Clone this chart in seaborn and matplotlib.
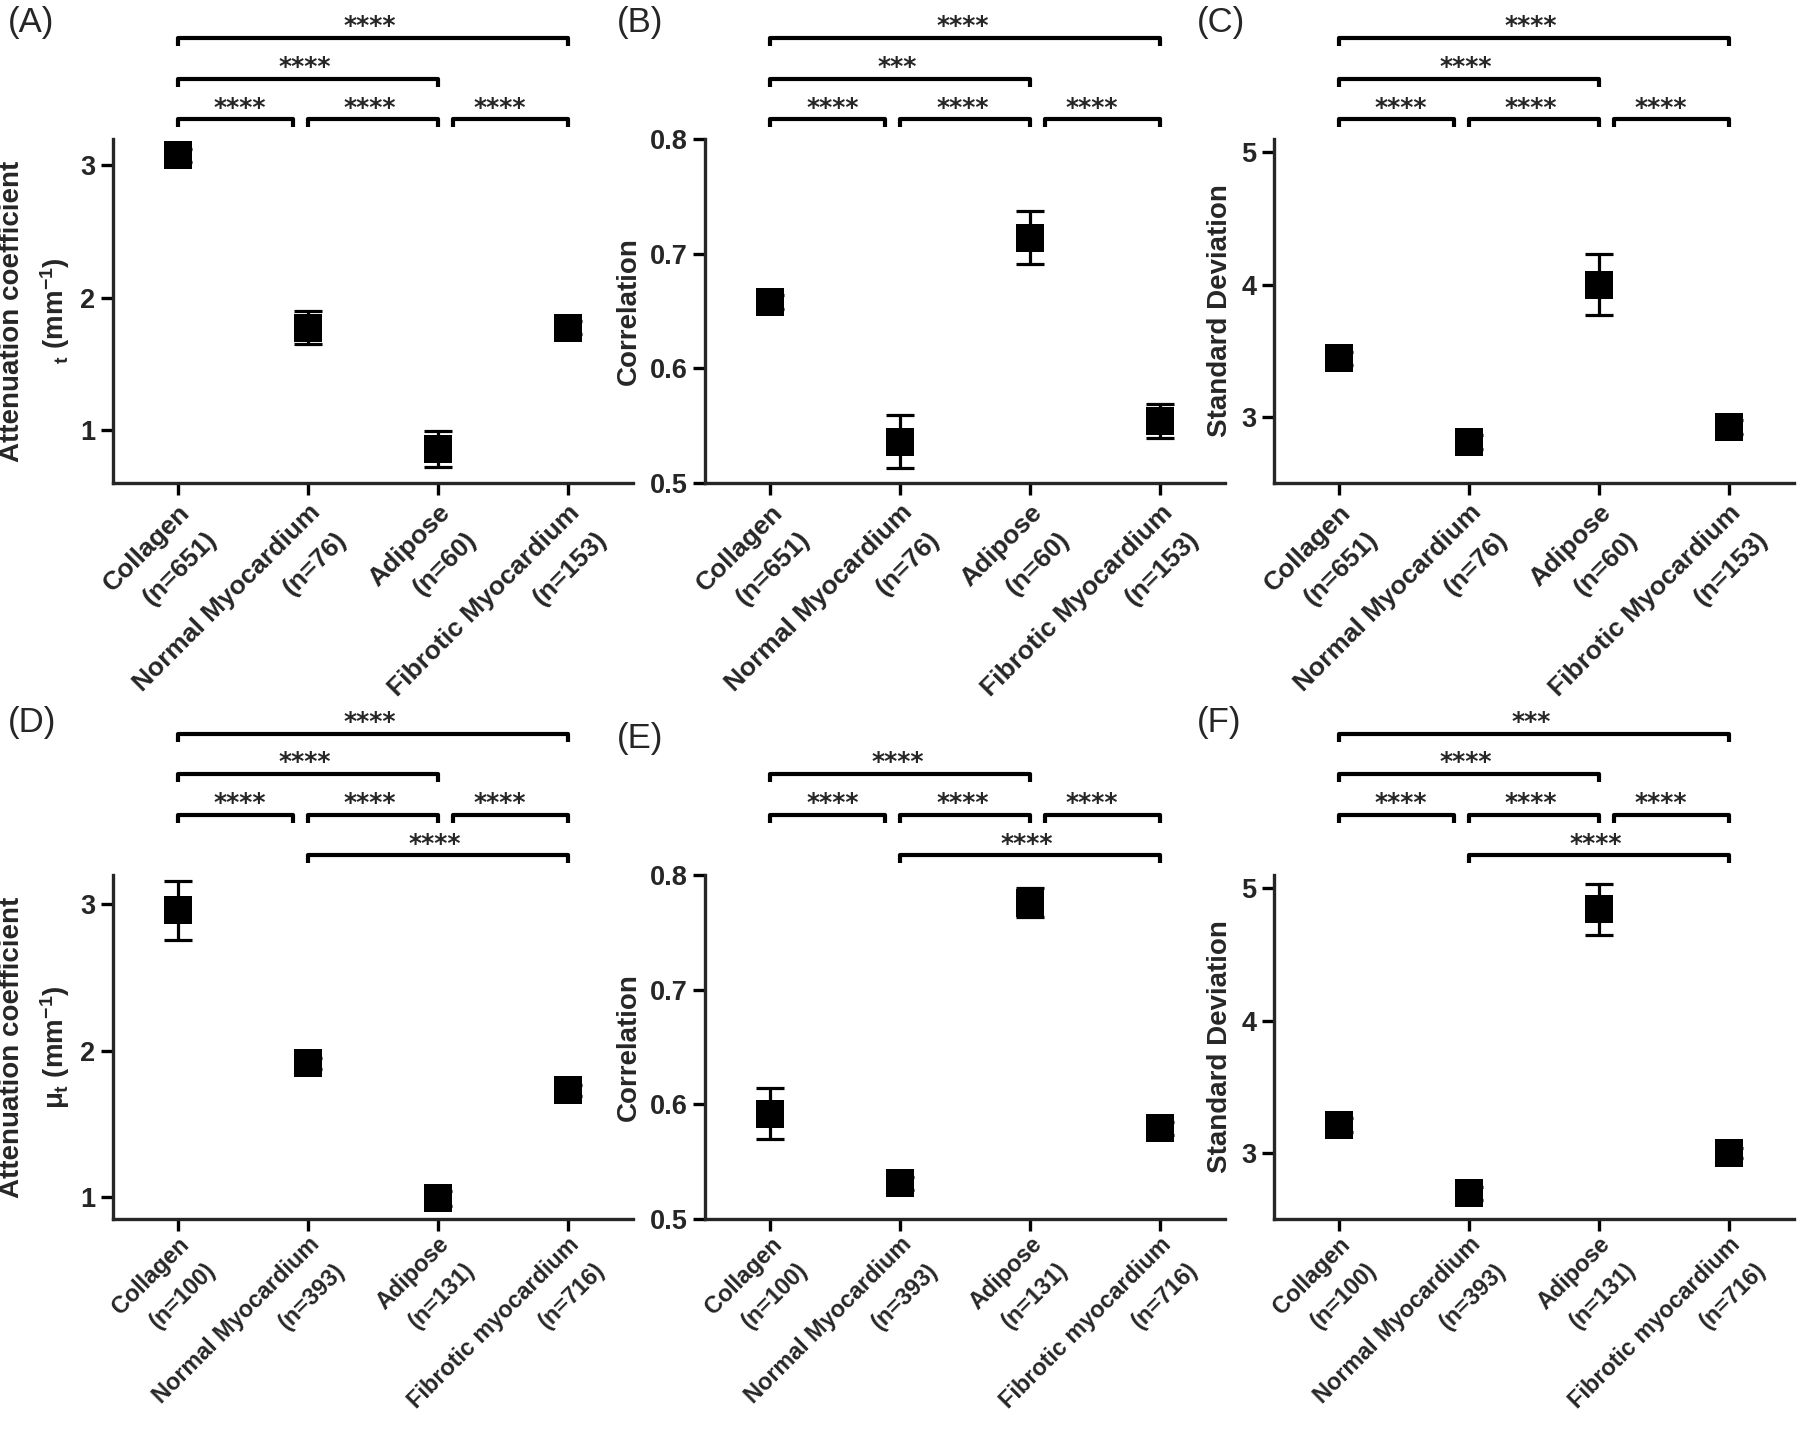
import numpy as np
import pandas as pd
import matplotlib
matplotlib.use("Agg")
import matplotlib.pyplot as plt
import matplotlib.transforms as mtransforms
import seaborn as sns

# ---------------- data ----------------
top_categories = ["Collagen\n(n=651)", "Normal Myocardium\n(n=76)",
                  "Adipose\n(n=60)", "Fibrotic Myocardium\n(n=153)"]
bottom_categories = ["Collagen\n(n=100)", "Normal Myocardium\n(n=393)",
                     "Adipose\n(n=131)", "Fibrotic myocardium\n(n=716)"]

A_mean = [3.076, 1.774, 0.855, 1.774]
A_err = [0.05, 0.125, 0.135, 0.05]
B_mean = [0.658, 0.536, 0.714, 0.554]
B_err = [0.006, 0.023, 0.023, 0.015]
C_mean = [3.442, 2.809, 3.998, 2.923]
C_err = [0.05, 0.05, 0.23, 0.05]
D_mean = [2.958, 1.913, 0.990, 1.728]
D_err = [0.20, 0.04, 0.05, 0.04]
E_mean = [0.592, 0.531, 0.776, 0.579]
E_err = [0.022, 0.006, 0.013, 0.006]
F_mean = [3.21, 2.694, 4.84, 3.0]
F_err = [0.05, 0.05, 0.19, 0.04]

ylabel_att_A = "Attenuation coefficient\n${}_t$ (mm$^{-1}$)"
ylabel_att_D = "Attenuation coefficient\n$\\mu_t$ (mm$^{-1}$)"
ylabel_corr = "Correlation"
ylabel_sd = "Standard Deviation"

# brackets: (start category index, end category index, row, label)
A_brackets = [(0, 1, 0, "****"), (1, 2, 0, "****"), (2, 3, 0, "****"),
              (0, 2, 1, "****"), (0, 3, 2, "****")]
B_brackets = [(0, 1, 0, "****"), (1, 2, 0, "****"), (2, 3, 0, "****"),
              (0, 2, 1, "***"), (0, 3, 2, "****")]
C_brackets = [(0, 1, 0, "****"), (1, 2, 0, "****"), (2, 3, 0, "****"),
              (0, 2, 1, "****"), (0, 3, 2, "****")]
D_brackets = [(1, 3, 0, "****"), (0, 1, 1, "****"), (1, 2, 1, "****"),
              (2, 3, 1, "****"), (0, 2, 2, "****"), (0, 3, 3, "****")]
E_brackets = [(1, 3, 0, "****"), (0, 1, 1, "****"), (1, 2, 1, "****"),
              (2, 3, 1, "****"), (0, 2, 2, "****")]
F_brackets = [(1, 3, 0, "****"), (0, 1, 1, "****"), (1, 2, 1, "****"),
              (2, 3, 1, "****"), (0, 2, 2, "****"), (0, 3, 3, "***")]

# ---------------- style ----------------
sns.set_style("ticks")
plt.rcParams['font.family'] = ['Liberation Sans', 'DejaVu Sans']
plt.rcParams['mathtext.fontset'] = 'custom'
plt.rcParams['mathtext.rm'] = 'Liberation Sans:bold'
plt.rcParams['mathtext.it'] = 'Liberation Sans:bold'
plt.rcParams['mathtext.bf'] = 'Liberation Sans:bold'
plt.rcParams['axes.linewidth'] = 2.4

fig = plt.figure(figsize=(18, 14.39), dpi=100)

col_left = [0.0627, 0.3918, 0.7077]
row_bottom = [0.6644, 0.1529]
ax_w, ax_h = 0.2887, 0.239

ROW0, ROWSTEP, DROP = 1.057, 0.118, 0.023


def draw_brackets(ax, brackets):
    trans = mtransforms.blended_transform_factory(ax.transData, ax.transAxes)
    for (i, j, row, label) in brackets:
        x1, x2 = float(i), float(j)
        for (k, l, r2, _) in brackets:
            if r2 != row or (k, l) == (i, j):
                continue
            if l == i and abs(j - 1.5) > abs(k - 1.5):
                x1 = i + 0.118
            if k == j and abs(i - 1.5) > abs(l - 1.5):
                x2 = j - 0.113
        y = ROW0 + ROWSTEP * row
        ax.plot([x1, x1, x2, x2], [y - DROP, y, y, y - DROP], transform=trans,
                clip_on=False, color='black', lw=3.0,
                solid_joinstyle='round', solid_capstyle='butt')
        ax.annotate(label, xy=((i + j) / 2.0, y), xycoords=trans,
                    xytext=(-2, 3.5), textcoords='offset points',
                    ha='center', va='baseline', fontsize=18,
                    fontweight='bold', family='DejaVu Sans',
                    annotation_clip=False)


def panel(ax, cats, means, errs, ylim, yticks, ylabel, brackets, xfs, xpad):
    df = pd.DataFrame({"tissue": cats, "value": means})
    ax.errorbar(cats, means, yerr=errs, fmt='none', ecolor='black',
                elinewidth=2.3, capsize=9.8, capthick=2.3, zorder=2)
    sns.scatterplot(data=df, x="tissue", y="value", marker='s', s=400,
                    color='black', edgecolor='black', linewidth=0,
                    zorder=3, legend=False, ax=ax)
    ax.set_xlim(-0.5, 3.5)
    ax.set_ylim(*ylim)
    ax.set_yticks(yticks)
    ax.set_xlabel("")
    ax.set_ylabel(ylabel, fontsize=20, fontweight='bold', labelpad=6,
                  linespacing=1.5)
    sns.despine(ax=ax)
    ax.spines['left'].set_linewidth(2.4)
    ax.spines['bottom'].set_linewidth(2.4)
    ax.tick_params(axis='both', length=8.5, width=2.4, labelsize=19.5,
                   direction='out', color='black')
    ax.tick_params(axis='x', labelsize=xfs, pad=xpad)
    ax.tick_params(axis='y', pad=4)
    for lab in ax.get_yticklabels():
        lab.set_fontweight('bold')
    plt.setp(ax.get_xticklabels(), rotation=45, ha='right', va='top',
             rotation_mode='anchor', fontweight='bold', linespacing=1.75)
    draw_brackets(ax, brackets)


panels = [
    (0, 0, top_categories, A_mean, A_err, (0.6, 3.2), [1, 2, 3], ylabel_att_A, A_brackets),
    (1, 0, top_categories, B_mean, B_err, (0.5, 0.8), [0.5, 0.6, 0.7, 0.8], ylabel_corr, B_brackets),
    (2, 0, top_categories, C_mean, C_err, (2.5, 5.1), [3, 4, 5], ylabel_sd, C_brackets),
    (0, 1, bottom_categories, D_mean, D_err, (0.85, 3.2), [1, 2, 3], ylabel_att_D, D_brackets),
    (1, 1, bottom_categories, E_mean, E_err, (0.5, 0.8), [0.5, 0.6, 0.7, 0.8], ylabel_corr, E_brackets),
    (2, 1, bottom_categories, F_mean, F_err, (2.5, 5.1), [3, 4, 5], ylabel_sd, F_brackets),
]

for (c, r, cats, m, e, yl, yt, ylab, br) in panels:
    ax = fig.add_axes([col_left[c], row_bottom[r], ax_w, ax_h])
    xfs, xpad = (19, 4) if r == 0 else (16.8, 1.5)
    panel(ax, cats, m, e, yl, yt, ylab, br, xfs, xpad)

letters = [("(A)", 8, 6), ("(B)", 617, 6), ("(C)", 1197, 6),
           ("(D)", 8, 706), ("(E)", 617, 722), ("(F)", 1197, 706)]
for txt, px, py in letters:
    fig.text(px / 1800.0, 1 - py / 1439.0, txt, fontsize=25, ha='left', va='top')

fig.savefig("out.png", dpi=100, facecolor='white')
